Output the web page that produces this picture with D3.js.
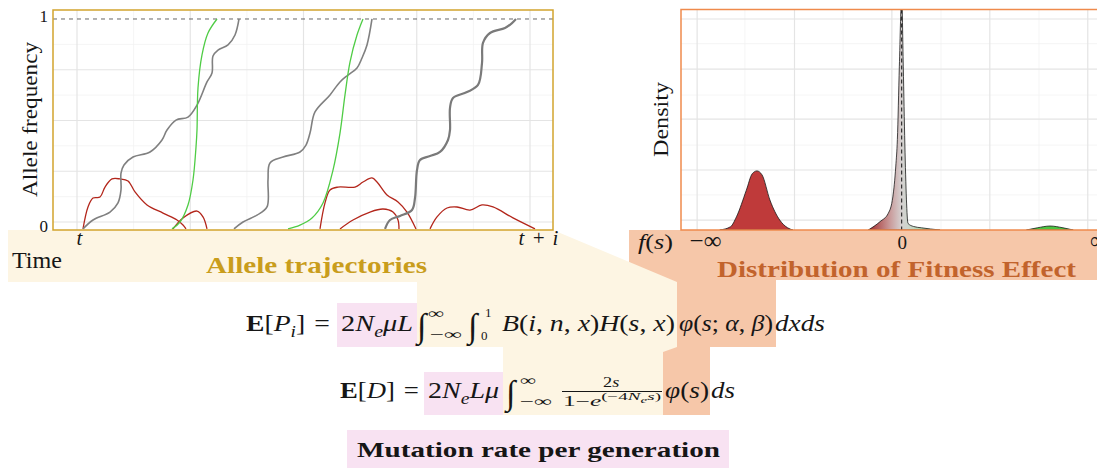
<!DOCTYPE html>
<html>
<head>
<meta charset="utf-8">
<script src="https://cdn.jsdelivr.net/npm/d3@7"></script>
<style>
  body { margin: 0; background: #fff; }
  svg { display: block; }
</style>
</head>
<body>
<svg id="chart"></svg>
<script>
// ---- allele trajectories (time in generations from t, allele frequency) ----
const timeTickValues = [2, 461];
const timeTickLabels = ["t", "t\u2004+\u2004i"];
const timeMajor = [0, 113.25, 226.5, 339.75, 453];
const timeMinor = [56.6, 169.9, 283.1, 396.4];
const freqTickValues = [0, 1];
const freqTickLabels = ["0", "1"];
const freqMajor = [0, 0.25, 0.5, 0.75];
const freqMinor = [0.125, 0.375, 0.625, 0.875];

const grayTraj1 = [[6,-0.034],[16,0.01],[33,0.049],[41,0.094],[44,0.158],[44,0.241],[47,0.281],[56,0.32],[73,0.345],[85,0.404],[90,0.453],[99,0.502],[111,0.517],[120,0.576],[130,0.69],[135,0.734],[136,0.818],[141,0.847],[151,0.872],[158,0.921],[162,1.0]];
const grayTraj2 = [[157,-0.034],[166,0],[180,0.034],[190,0.074],[191,0.207],[193,0.291],[206,0.32],[223,0.345],[229,0.379],[233,0.438],[238,0.542],[253,0.626],[263,0.69],[271,0.724],[280,0.759],[285,0.808],[290,0.872],[295,1.0]];
const grayTraj3 = [[308,-0.034],[313,0.01],[323,0.03],[335,0.059],[338,0.118],[340,0.256],[343,0.305],[353,0.325],[363,0.345],[371,0.404],[373,0.453],[373,0.562],[376,0.611],[390,0.64],[401,0.675],[405,0.783],[406,0.882],[413,0.931],[428,0.956],[435,0.98],[439,1.0]];
const greenTraj1 = [[95,-0.034],[103,0],[111,0.084],[116,0.207],[119,0.369],[120,0.453],[121,0.66],[125,0.823],[131,0.931],[140,1.0]];
const greenTraj2 = [[211,-0.034],[223,-0.015],[235,0.02],[246,0.094],[256,0.256],[263,0.438],[268,0.626],[273,0.788],[280,0.921],[286,1.0]];
const redTraj1 = [[6,-0.034],[11,0.074],[16,0.118],[23,0.123],[28,0.172],[35,0.212],[43,0.212],[51,0.202],[58,0.148],[70,0.084],[86,0.044],[100,0.01],[106,-0.015],[109,-0.034]];
const redTraj2 = [[96,-0.034],[106,0.02],[120,0.054],[126,0.025],[130,-0.034]];
const redTraj3 = [[243,-0.034],[248,0.094],[253,0.158],[261,0.172],[278,0.172],[286,0.197],[295,0.217],[300,0.197],[310,0.133],[321,0.099],[330,0.049],[339,-0.034]];
const redTraj4 = [[263,-0.034],[276,0.01],[293,0.049],[306,0.064],[316,0.049],[321,0.01],[322,-0.034]];
const redTraj5 = [[353,-0.034],[360,0.025],[370,0.069],[380,0.074],[393,0.059],[405,0.084],[416,0.074],[436,0.02],[458,-0.034]];

// ---- distribution of fitness effects (selection coefficient, density) ----
const sTickValues = [-1, 0, 1];
const sTickLabels = ["\u2212\u221e", "0", "\u221e"];
const sMajor = [-1.04, -0.545, -0.05, 0.448, 0.946];
const sMinor = [-0.797, -0.298, 0.2, 0.698];
const densMajor = [0.045, 0.272, 0.503, 0.73, 0.957];
const densMinor = [0.159, 0.385, 0.612, 0.845];

const deleteriousDens = [[-0.925,0],[-0.87,0.015],[-0.84,0.06],[-0.79,0.18],[-0.76,0.255],[-0.736,0.268],[-0.71,0.25],[-0.67,0.136],[-0.62,0.045],[-0.58,0.01],[-0.553,0]];
const neutralDens = [[-0.17,0],[-0.11,0.038],[-0.068,0.076],[-0.045,0.15],[-0.03,0.29],[-0.022,0.41],[-0.012,0.74],[0,1.06],[0.008,0.74],[0.016,0.39],[0.024,0.14],[0.032,0.03],[0.06,0.016],[0.1,0.01],[0.195,0]];
const beneficialDens = [[0.634,0],[0.69,0.01],[0.754,0.018],[0.82,0.01],[0.872,0]];

const width = 1097, height = 468;
const serif = "'Liberation Serif','Times New Roman',serif";
const ink = "#161616";
const gold = "#d2a42e", goldText = "#c99d1c";
const orange = "#ef8a4c", orangeText = "#c2632c";
const cream = "#fdf5e3", peach = "#f6c7a9", pink = "#f8e2f2";

const svg = d3.select("#chart")
  .attr("width", width)
  .attr("height", height)
  .attr("viewBox", [0, 0, width, height]);

// ---- coloured connector shapes behind everything ----
const bg = svg.append("g");
bg.append("polygon")
  .attr("points", [[629,230],[1097,230],[1097,280],[776,280],[776,347],[710,347],[710,415],[663,415],[663,300],[629,300]].join(" "))
  .attr("fill", peach);
bg.append("polygon")
  .attr("points", [[8,230],[553,230],[677,282],[677,347],[663,352],[663,415],[503,415],[503,347],[417,347],[417,282],[8,282]].join(" "))
  .attr("fill", cream);
bg.append("rect").attr("x", 337).attr("y", 303).attr("width", 80).attr("height", 44).attr("fill", pink);
bg.append("rect").attr("x", 424).attr("y", 372).attr("width", 79).attr("height", 43).attr("fill", pink);
bg.append("rect").attr("x", 347).attr("y", 430).attr("width", 382).attr("height", 38).attr("fill", pink);

// helper: a run of math text, stretched to a target width
function piece(g, x, y, w, size, parts, fill = ink) {
  const holder = g.append("g");
  const t = holder.append("text")
    .attr("font-family", serif)
    .attr("font-size", size)
    .attr("fill", fill);
  let rise = 0;
  parts.forEach(([s, f = "", r = 0, k = 1]) => {
    t.append("tspan").text(s)
      .attr("dy", (rise - r) * size)
      .attr("font-size", size * k)
      .attr("font-style", f.includes("i") ? "italic" : "normal")
      .attr("font-weight", f.includes("b") ? "bold" : "normal");
    rise = r;
  });
  const bw = t.node().getBBox().width;
  holder.attr("transform", `translate(${x},${y}) scale(${w ? w / bw : 1},1)`);
  return holder;
}

// ================= left panel: allele trajectories =================
const x = d3.scaleLinear().domain([-24, 476]).range([53, 553]);
const y = d3.scaleLinear().domain([-0.0394, 1.0443]).range([230, 10]);

const left = svg.append("g");
left.append("rect")
  .attr("x", 53).attr("y", 10).attr("width", 500).attr("height", 220)
  .attr("fill", "#fff");

left.append("g").selectAll("line").data(timeMinor).join("line")
  .attr("x1", d => x(d)).attr("x2", d => x(d)).attr("y1", 10).attr("y2", 230)
  .attr("stroke", "#f2f2f2").attr("stroke-width", 0.8);
left.append("g").selectAll("line").data(freqMinor).join("line")
  .attr("y1", d => y(d)).attr("y2", d => y(d)).attr("x1", 53).attr("x2", 553)
  .attr("stroke", "#f2f2f2").attr("stroke-width", 0.8);
left.append("g").selectAll("line").data(timeMajor).join("line")
  .attr("x1", d => x(d)).attr("x2", d => x(d)).attr("y1", 10).attr("y2", 230)
  .attr("stroke", "#e4e4e4").attr("stroke-width", 1.2);
left.append("g").selectAll("line").data(freqMajor).join("line")
  .attr("y1", d => y(d)).attr("y2", d => y(d)).attr("x1", 53).attr("x2", 553)
  .attr("stroke", "#e4e4e4").attr("stroke-width", 1.2);

// fixation line
left.append("line")
  .attr("x1", 53).attr("x2", 553).attr("y1", y(1)).attr("y2", y(1))
  .attr("stroke", "#555").attr("stroke-width", 0.9).attr("stroke-dasharray", "4,4");

svg.append("clipPath").attr("id", "clipL")
  .append("rect").attr("x", 53).attr("y", 10).attr("width", 500).attr("height", 220);

const traj = d3.line()
  .x(d => x(d[0]))
  .y(d => y(d[1]))
  .curve(d3.curveCatmullRom.alpha(0.5));

const trajG = left.append("g").attr("clip-path", "url(#clipL)");
const trajectories = [
  [redTraj1, "#b3261b", 1.3], [redTraj2, "#b3261b", 1.3], [redTraj3, "#b3261b", 1.3],
  [redTraj4, "#b3261b", 1.3], [redTraj5, "#b3261b", 1.3],
  [grayTraj1, "#808080", 1.6], [grayTraj2, "#808080", 1.6], [grayTraj3, "#7a7a7a", 2.2],
  [greenTraj1, "#4fcc45", 1.3], [greenTraj2, "#4fcc45", 1.3]
];
trajectories.forEach(([data, color, w]) => {
  trajG.append("path")
    .datum(data)
    .attr("fill", "none")
    .attr("stroke", color)
    .attr("stroke-width", w)
    .attr("d", traj);
});

left.append("rect")
  .attr("x", 53).attr("y", 10).attr("width", 500).attr("height", 220)
  .attr("fill", "none").attr("stroke", gold).attr("stroke-width", 1.5);

// axes
left.append("g")
  .attr("transform", "translate(53,0)")
  .call(d3.axisLeft(y).tickValues(freqTickValues).tickSize(0).tickPadding(5)
    .tickFormat((d, i) => freqTickLabels[i]))
  .call(g => g.select(".domain").remove())
  .selectAll("text")
  .attr("dy", d => d === 0 ? "0.55em" : "0.15em")
  .attr("font-family", serif).attr("font-size", 17).attr("fill", ink);

left.append("g")
  .attr("transform", "translate(0,230)")
  .call(d3.axisBottom(x).tickValues(timeTickValues).tickSize(0)
    .tickFormat((d, i) => timeTickLabels[i]))
  .call(g => g.select(".domain").remove())
  .selectAll("text")
  .attr("y", 15).attr("dy", 0)
  .attr("font-family", serif).attr("font-size", 21).attr("font-style", "italic").attr("fill", ink);

left.append("text")
  .attr("transform", "translate(37,120) rotate(-90)")
  .attr("x", -77).attr("font-family", serif).attr("font-size", 21).attr("fill", ink)
  .attr("textLength", 155).attr("lengthAdjust", "spacingAndGlyphs")
  .text("Allele frequency");

left.append("text")
  .attr("x", 12).attr("y", 268)
  .attr("font-family", serif).attr("font-size", 23).attr("fill", ink)
  .attr("textLength", 50).attr("lengthAdjust", "spacingAndGlyphs")
  .text("Time");

left.append("text")
  .attr("x", 206).attr("y", 273)
  .attr("font-family", serif).attr("font-size", 24).attr("font-weight", "bold").attr("fill", goldText)
  .attr("textLength", 221).attr("lengthAdjust", "spacingAndGlyphs")
  .text("Allele trajectories");

// ================= right panel: distribution of fitness effect =================
const xs = d3.scaleLinear().domain([-1, 1]).range([705, 1098.4]);
const yd = d3.scaleLinear().domain([0, 1]).range([230, 9.5]);

const right = svg.append("g");
right.append("rect")
  .attr("x", 681).attr("y", 9.5).attr("width", 430).attr("height", 220.5)
  .attr("fill", "#fff");

right.append("g").selectAll("line").data(sMinor).join("line")
  .attr("x1", d => xs(d)).attr("x2", d => xs(d)).attr("y1", 9.5).attr("y2", 230)
  .attr("stroke", "#f2f2f2").attr("stroke-width", 0.8);
right.append("g").selectAll("line").data(densMinor).join("line")
  .attr("y1", d => yd(d)).attr("y2", d => yd(d)).attr("x1", 681).attr("x2", 1111)
  .attr("stroke", "#f2f2f2").attr("stroke-width", 0.8);
right.append("g").selectAll("line").data(sMajor).join("line")
  .attr("x1", d => xs(d)).attr("x2", d => xs(d)).attr("y1", 9.5).attr("y2", 230)
  .attr("stroke", "#e4e4e4").attr("stroke-width", 1.2);
right.append("g").selectAll("line").data(densMajor).join("line")
  .attr("y1", d => yd(d)).attr("y2", d => yd(d)).attr("x1", 681).attr("x2", 1111)
  .attr("stroke", "#e4e4e4").attr("stroke-width", 1.2);

svg.append("clipPath").attr("id", "clipR")
  .append("rect").attr("x", 681).attr("y", 9.5).attr("width", 430).attr("height", 220.5);

const grad = svg.append("defs").append("linearGradient")
  .attr("id", "neutralGrad")
  .attr("gradientUnits", "userSpaceOnUse")
  .attr("x1", xs(-0.17)).attr("x2", xs(0.195)).attr("y1", 0).attr("y2", 0);
[[0, "#a32a2a"], [0.3, "#c99a9a"], [0.46, "#d5d0d0"], [0.56, "#ccd6cc"], [0.78, "#a9d3a1"], [1, "#55c043"]]
  .forEach(([o, c]) => grad.append("stop").attr("offset", o).attr("stop-color", c));

const dens = d3.area()
  .x(d => xs(d[0]))
  .y0(yd(0))
  .y1(d => yd(d[1]))
  .curve(d3.curveMonotoneX);

const densG = right.append("g").attr("clip-path", "url(#clipR)");
[[deleteriousDens, "#bf3a3a"], [neutralDens, "url(#neutralGrad)"], [beneficialDens, "#4cc541"]]
  .forEach(([data, fill]) => {
    densG.append("path")
      .datum(data)
      .attr("fill", fill)
      .attr("stroke", "#1a1a1a")
      .attr("stroke-width", 0.8)
      .attr("d", dens);
  });

densG.append("line")
  .attr("x1", xs(0)).attr("x2", xs(0)).attr("y1", 9.5).attr("y2", 230)
  .attr("stroke", "#111").attr("stroke-width", 1).attr("stroke-dasharray", "4,3");

right.append("rect")
  .attr("x", 681).attr("y", 9.5).attr("width", 430).attr("height", 220.5)
  .attr("fill", "none").attr("stroke", orange).attr("stroke-width", 1.5);

right.append("g")
  .attr("transform", "translate(0,230)")
  .call(d3.axisBottom(xs).tickValues(sTickValues).tickSize(0)
    .tickFormat((d, i) => sTickLabels[i]))
  .call(g => g.select(".domain").remove())
  .selectAll("text")
  .attr("y", 19).attr("dy", 0)
  .attr("font-family", serif)
  .attr("font-size", d => d === 0 ? 19 : 25)
  .attr("fill", ink);

piece(right, 638, 249, 35, 20, [["f", "i"], ["("], ["s", "i"], [")"]]);

right.append("text")
  .attr("transform", "translate(668,120) rotate(-90)")
  .attr("x", -37).attr("font-family", serif).attr("font-size", 20).attr("fill", ink)
  .attr("textLength", 75).attr("lengthAdjust", "spacingAndGlyphs")
  .text("Density");

right.append("text")
  .attr("x", 717).attr("y", 277)
  .attr("font-family", serif).attr("font-size", 24).attr("font-weight", "bold").attr("fill", orangeText)
  .attr("textLength", 359).attr("lengthAdjust", "spacingAndGlyphs")
  .text("Distribution of Fitness Effect");

// ================= formulas =================
const eq = svg.append("g");
const sub = (s, f = "i") => [s, f, -0.25, 0.7];

// E[P_i]
piece(eq, 246, 331, 84, 23, [["E", "b"], ["["], ["P", "i"], sub("i"), ["]"], ["\u2004="]]);
piece(eq, 341, 331, 72, 23, [["2"], ["N", "i"], sub("e"), ["\u03bcL", "i"]]);
piece(eq, 417, 337, 0, 34, [["\u222b"]]);
piece(eq, 428, 318, 16, 14, [["\u221e"]]);
piece(eq, 430, 339, 32, 14, [["\u2212\u221e"]]);
piece(eq, 468, 337, 0, 34, [["\u222b"]]);
piece(eq, 485, 317, 0, 13, [["1"]]);
piece(eq, 481, 340, 0, 13, [["0"]]);
piece(eq, 502, 331, 173, 23, [["B", "i"], ["("], ["i", "i"], [", "], ["n", "i"], [", "], ["x", "i"], [")"],
  ["H", "i"], ["("], ["s", "i"], [", "], ["x", "i"], [")"]]);
piece(eq, 679, 331, 94, 23, [["\u03c6", "i"], ["("], ["s", "i"], ["; "], ["\u03b1", "i"], [", "], ["\u03b2", "i"], [")"]]);
piece(eq, 775, 331, 50, 23, [["dxds", "i"]]);

// E[D]
piece(eq, 340, 398, 79, 23, [["E", "b"], ["["], ["D", "i"], ["]"], ["\u2004="]]);
piece(eq, 428, 398, 71, 23, [["2"], ["N", "i"], sub("e"), ["L\u03bc", "i"]]);
piece(eq, 506, 404, 0, 34, [["\u222b"]]);
piece(eq, 520, 385, 16, 14, [["\u221e"]]);
piece(eq, 520, 406, 32, 14, [["\u2212\u221e"]]);
piece(eq, 603, 387, 17, 14, [["2"], ["s", "i"]]);
eq.append("line")
  .attr("x1", 562).attr("x2", 662).attr("y1", 391.5).attr("y2", 391.5)
  .attr("stroke", ink).attr("stroke-width", 1);
piece(eq, 563, 406, 99, 14, [["1\u2212"], ["e", "i"], ["(\u22124", "", 0.4, 0.75], ["N", "i", 0.4, 0.75],
  ["e", "i", 0.25, 0.6], ["s", "i", 0.4, 0.75], [")", "", 0.4, 0.75]]);
piece(eq, 665, 398, 44, 23, [["\u03c6", "i"], ["("], ["s", "i"], [")"]]);
piece(eq, 711, 398, 24, 23, [["ds", "i"]]);

eq.append("text")
  .attr("x", 357).attr("y", 457)
  .attr("font-family", serif).attr("font-size", 22).attr("font-weight", "bold").attr("fill", ink)
  .attr("textLength", 363).attr("lengthAdjust", "spacingAndGlyphs")
  .text("Mutation rate per generation");
</script>
</body>
</html>
